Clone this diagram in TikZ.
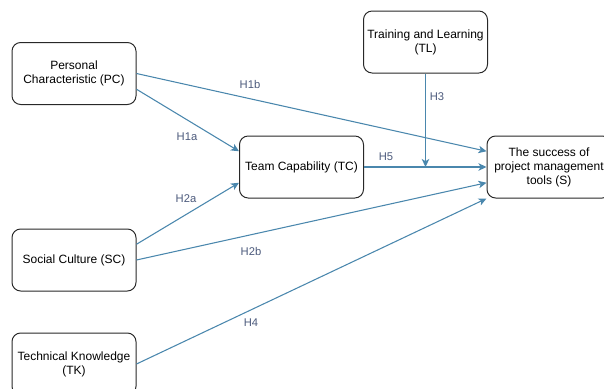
\documentclass[tikz,border=0pt]{standalone}
\usepackage{fontspec}
\setmainfont{Liberation Sans}
\usetikzlibrary{arrows.meta,calc}

\definecolor{edgeblue}{RGB}{74,135,173}
\definecolor{lblslate}{RGB}{76,90,124}

\tikzset{every picture/.style={line width=0.75pt}}
\tikzset{
	factor/.style={draw={rgb,255:red,40;green,40;blue,40}, rounded corners=6.5pt, minimum width=93pt, minimum height=46.5pt, align=center, font=\fontsize{9}{10.5}\selectfont, inner sep=1pt},
	hyp/.style={draw=edgeblue, line width=0.8pt, -{Stealth[length=6pt,width=5.6pt,inset=1.6pt]}},
	hyplabel/.style={text=lblslate, font=\fontsize{8.4}{10}\selectfont}
}

\begin{document}
\begin{tikzpicture}[x=0.75pt,y=0.75pt,yscale=-1,xscale=1]
	\useasboundingbox (0,0) rectangle (604,389);

	%Rounded Rect [id:pc] 
	\node[factor] (pc) at (74,73.5) {Personal\\Characteristic (PC)};
	%Rounded Rect [id:tc] 
	\node[factor] (tc) at (301.5,167) {Team Capability (TC)};
	%Rounded Rect [id:tl] 
	\node[factor] (tl) at (425.5,42) {Training and Learning\\(TL)};
	%Rounded Rect [id:s] 
	\node[factor] (s) at (549,167) {The success of\\project management\\tools (S)};
	%Rounded Rect [id:sc] 
	\node[factor] (sc) at (74,260) {Social Culture (SC)};
	%Rounded Rect [id:tk] 
	\node[factor] (tk) at (74,364) {Technical Knowledge\\(TK)};

	%Straight Lines [id:h1a] 
	\draw[hyp] ($(pc.east)!.5!(pc.south east)$) -- ($(tc.west)!.5!(tc.north west)$);
	%Straight Lines [id:h1b] 
	\draw[hyp] (pc.east) -- ($(s.west)!.5!(s.north west)$);
	%Straight Lines [id:h2a] 
	\draw[hyp] ($(sc.east)!.5!(sc.north east)$) -- ($(tc.west)!.5!(tc.south west)$);
	%Straight Lines [id:h2b] 
	\draw[hyp] (sc.east) -- ($(s.west)!.5!(s.south west)$);
	%Straight Lines [id:h4] 
	\draw[hyp] (tk.east) -- (s.south west);
	%Straight Lines [id:h5] 
	\draw[hyp] (tc.east) -- (s.west);
	%Straight Lines [id:h3] 
	\draw[hyp] (tl.south) -- (tl.south |- tc.east);

	% Text Node
	\node[hyplabel] (lh1a) at (187,137) {H1a};
	% Text Node
	\node[hyplabel] (lh1b) at (250,84) {H1b};
	% Text Node
	\node[hyplabel] (lh2a) at (186,199) {H2a};
	% Text Node
	\node[hyplabel] (lh2b) at (251,251) {H2b};
	% Text Node
	\node[hyplabel] (lh3) at (437,97) {H3};
	% Text Node
	\node[hyplabel] (lh4) at (251,323) {H4};
	% Text Node
	\node[hyplabel] (lh5) at (386,157) {H5};

\end{tikzpicture}
\end{document}
